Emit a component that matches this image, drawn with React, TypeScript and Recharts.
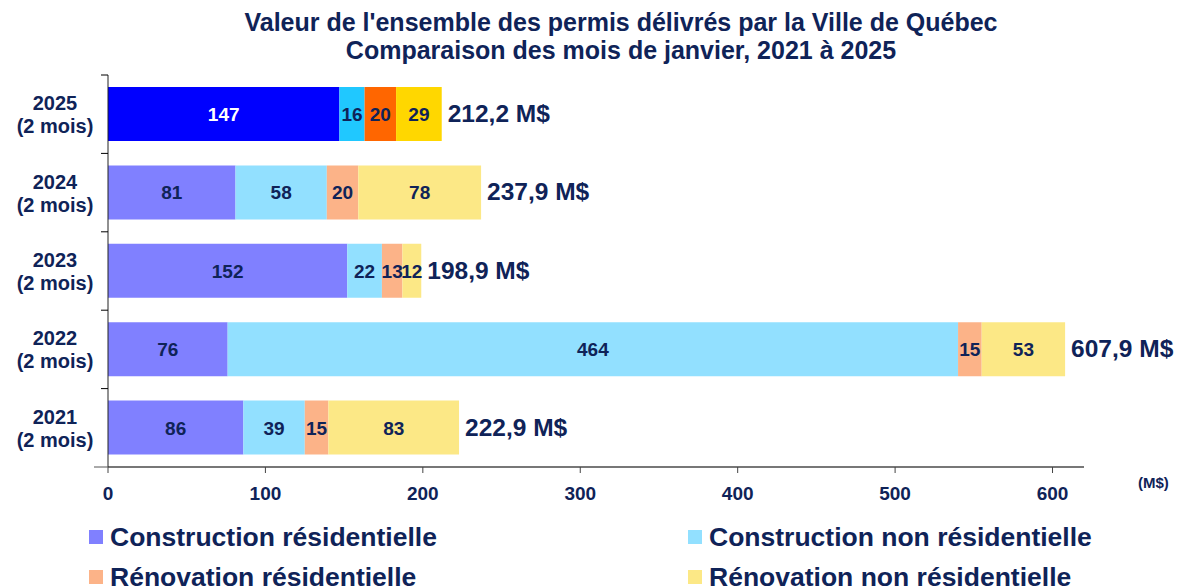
import React from 'react';
import { BarChart, Bar, XAxis, YAxis, Cell, LabelList } from 'recharts';

const years = ['2025', '2024', '2023', '2022', '2021'];
const constructionRes = [147, 81, 152, 76, 86];
const constructionNonRes = [16, 58, 22, 464, 39];
const renovationRes = [20, 20, 13, 15, 15];
const renovationNonRes = [29, 78, 12, 53, 83];
const totals = [212.2, 237.9, 198.9, 607.9, 222.9];
const xTicks = [0, 100, 200, 300, 400, 500, 600];

const seriesNames = [
  'Construction résidentielle',
  'Construction non résidentielle',
  'Rénovation résidentielle',
  'Rénovation non résidentielle',
];
const normalColors = ['#8080FF', '#92E0FF', '#FCB388', '#FCE886'];
const currentColors = ['#0000FF', '#20C8FF', '#FF6600', '#FFD700'];

const NAVY = '#0f2358';
const FONT = '"Liberation Sans", Arial, sans-serif';

const data = years.map((year, i) => ({
  year,
  cr: constructionRes[i],
  cnr: constructionNonRes[i],
  rr: renovationRes[i],
  rnr: renovationNonRes[i],
  total: totals[i],
}));

const keys = ['cr', 'cnr', 'rr', 'rnr'];

const YearTick = (props: any) => {
  const { y, payload, index } = props;
  const half = 39.2;
  return (
    <g>
      <line x1={101} x2={108} y1={y - half} y2={y - half} stroke="#000" strokeWidth={1} />
      {index === years.length - 1 && (
        <line x1={94} x2={108} y1={y + half} y2={y + half} stroke="#555" strokeWidth={1} />
      )}
      <text
        x={55}
        y={y}
        textAnchor="middle"
        fontFamily={FONT}
        fontWeight="bold"
        fontSize={20}
        fill={NAVY}
      >
        <tspan x={55} dy={-4}>{payload.value}</tspan>
        <tspan x={55} dy={23}>(2 mois)</tspan>
      </text>
    </g>
  );
};

const segmentLabel = (key: string) => (props: any) => {
  const { x, y, width, height, value, index } = props;
  const white = key === 'cr' && index === 0;
  return (
    <text
      x={x + width / 2}
      y={y + height / 2 + 7}
      textAnchor="middle"
      fontFamily={FONT}
      fontWeight="bold"
      fontSize={19}
      fill={white ? '#ffffff' : NAVY}
    >
      {value}
    </text>
  );
};

const totalLabel = (props: any) => {
  const { x, y, width, height, value } = props;
  return (
    <text
      x={x + width + 6}
      y={y + height / 2 + 8}
      textAnchor="start"
      fontFamily={FONT}
      fontWeight="bold"
      fontSize={24.5}
      fill={NAVY}
    >
      {String(value.toFixed(1)).replace('.', ',') + ' M$'}
    </text>
  );
};

const App: React.FC = () => {
  return (
    <div style={{ position: 'absolute', left: 0, top: 0, width: 1183, height: 586, background: '#fff', overflow: 'hidden' }}>
      <div
        style={{
          position: 'absolute',
          left: 0,
          top: 8,
          width: 1242,
          textAlign: 'center',
          fontFamily: FONT,
          fontWeight: 'bold',
          fontSize: 25,
          lineHeight: '28px',
          color: NAVY,
        }}
      >
        Valeur de l'ensemble des permis délivrés par la Ville de Québec
        <br />
        Comparaison des mois de janvier, 2021 à 2025
      </div>
      <BarChart
        width={1183}
        height={586}
        data={data}
        layout="vertical"
        margin={{ top: 75, right: 99, bottom: 79, left: 0 }}
        barCategoryGap={12}
      >
        <XAxis
          type="number"
          domain={[0, 620]}
          ticks={xTicks}
          allowDataOverflow
          axisLine={{ stroke: '#777', strokeWidth: 2 }}
          tickLine={{ stroke: '#444' }}
          tickSize={6}
          height={40}
          tick={{ fill: NAVY, fontFamily: FONT, fontWeight: 'bold', fontSize: 19, dy: 12 }}
        />
        <YAxis
          type="category"
          dataKey="year"
          width={108}
          axisLine={{ stroke: '#222', strokeWidth: 1 }}
          tickLine={false}
          tick={<YearTick />}
        />
        {keys.map((k, s) => (
          <Bar key={k} dataKey={k} stackId="a" isAnimationActive={false} name={seriesNames[s]}>
            {data.map((_, i) => (
              <Cell key={i} fill={i === 0 ? currentColors[s] : normalColors[s]} />
            ))}
            <LabelList dataKey={k} content={segmentLabel(k)} />
            {k === 'rnr' && <LabelList dataKey="total" content={totalLabel} />}
          </Bar>
        ))}
      </BarChart>
      <div
        style={{
          position: 'absolute',
          left: 1138,
          top: 474,
          fontFamily: FONT,
          fontWeight: 'bold',
          fontSize: 15,
          color: NAVY,
        }}
      >
        (M$)
      </div>
      {seriesNames.map((name, s) => (
        <div
          key={name}
          style={{
            position: 'absolute',
            left: s % 2 === 0 ? 89 : 688,
            top: s < 2 ? 521 : 561,
            display: 'flex',
            alignItems: 'center',
            fontFamily: FONT,
            fontWeight: 'bold',
            fontSize: 26.5,
            lineHeight: '32px',
            color: NAVY,
            whiteSpace: 'nowrap',
          }}
        >
          <span style={{ display: 'inline-block', width: 14, height: 14, background: normalColors[s], marginRight: 7 }} />
          {name}
        </div>
      ))}
    </div>
  );
};

export default App;
